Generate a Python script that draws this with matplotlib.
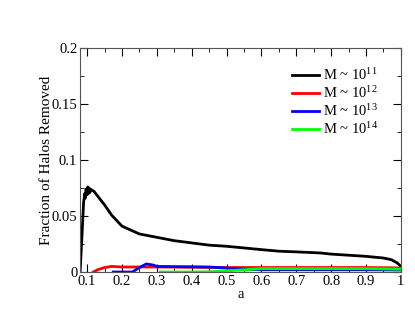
import matplotlib
matplotlib.use('Agg')
import matplotlib.pyplot as plt
from matplotlib.ticker import MultipleLocator, FuncFormatter

plt.rcParams['font.family'] = ['Liberation Serif', 'DejaVu Serif']
plt.rcParams['mathtext.fontset'] = 'custom'
plt.rcParams['mathtext.rm'] = 'Liberation Serif'
plt.rcParams['mathtext.it'] = 'Liberation Serif:italic'

# M ~ 10^11
a11 = [0.08, 0.085, 0.09, 0.093, 0.095, 0.097, 0.1, 0.102, 0.104, 0.106, 0.108, 0.11,
       0.12, 0.13, 0.15, 0.17, 0.2, 0.25, 0.3, 0.35, 0.4, 0.45, 0.5, 0.6, 0.65,
       0.7, 0.77, 0.8, 0.85, 0.9, 0.95, 0.973, 0.99, 1.0]
f11 = [0.0, 0.03, 0.062, 0.07, 0.066, 0.074, 0.069, 0.076, 0.07, 0.075, 0.071, 0.074,
       0.072, 0.068, 0.06, 0.051, 0.041, 0.034, 0.031, 0.028, 0.026, 0.024, 0.023, 0.020, 0.0186,
       0.018, 0.017, 0.016, 0.015, 0.014, 0.0125, 0.011, 0.008, 0.005]

# M ~ 10^12
a12 = [0.118, 0.13, 0.15, 0.17, 0.2, 0.25, 0.3, 0.4, 0.5, 0.6, 0.7, 0.8, 0.9, 0.97, 1.0]
f12 = [0.0, 0.002, 0.004, 0.005, 0.0045, 0.0045, 0.0045, 0.0042, 0.004, 0.004, 0.004, 0.004, 0.004, 0.0038, 0.0035]

# M ~ 10^13
a13 = [0.175, 0.2, 0.23, 0.25, 0.27, 0.29, 0.3, 0.35, 0.4, 0.45, 0.5, 0.55, 0.6, 0.7, 0.8, 0.9, 1.0]
f13 = [0.0, 0.0, 0.0, 0.004, 0.0072, 0.0062, 0.005, 0.0048, 0.0047, 0.0045, 0.0035, 0.0025, 0.002, 0.002, 0.002, 0.002, 0.0018]

# M ~ 10^14
a14 = [0.31, 0.35, 0.4, 0.45, 0.5, 0.55, 0.6, 0.7, 0.8, 0.9, 1.0]
f14 = [0.0, 0.0, 0.0, 0.0002, 0.001, 0.002, 0.003, 0.003, 0.003, 0.003, 0.0025]

labels = [r'M ~ 10$^{11}$', r'M ~ 10$^{12}$', r'M ~ 10$^{13}$', r'M ~ 10$^{14}$']

fig = plt.figure(figsize=(4.15, 3.21), dpi=100)
ax = fig.add_axes([0.193, 0.1526, 0.773, 0.6974])

ax.plot(a11, f11, color='black', lw=2, label=labels[0])
ax.plot(a12, f12, color='red', lw=2, label=labels[1])
ax.plot(a13, f13, color='blue', lw=2, label=labels[2])
ax.plot(a14, f14, color='#00ff00', lw=2, label=labels[3])

ax.set_xlim(0.08, 1.0)
ax.set_ylim(0, 0.2)
ax.xaxis.set_major_locator(MultipleLocator(0.1))
ax.xaxis.set_minor_locator(MultipleLocator(0.05))
ax.yaxis.set_major_locator(MultipleLocator(0.05))
ax.yaxis.set_minor_locator(MultipleLocator(0.025))
ax.xaxis.set_major_formatter(FuncFormatter(lambda v, p: '%g' % round(v, 3)))
ax.yaxis.set_major_formatter(FuncFormatter(lambda v, p: '%g' % round(v, 3)))
ax.tick_params(which='both', direction='in', top=True, right=True, labelsize=10.5, pad=2)
ax.tick_params(which='major', length=6)
ax.tick_params(which='minor', length=3)
for s in ax.spines.values():
    s.set_color('#555555')

ax.set_xlabel('a', fontsize=10.5, labelpad=0)
ax.set_ylabel('Fraction of Halos Removed', fontsize=11)
ax.yaxis.set_label_coords(-0.086, 0.5)

ax.legend(loc='upper right', bbox_to_anchor=(0.97, 0.975), frameon=False, fontsize=10.5,
          handlelength=1.8, handletextpad=0.3, labelspacing=0.15)

fig.savefig('out.png', dpi=100)
